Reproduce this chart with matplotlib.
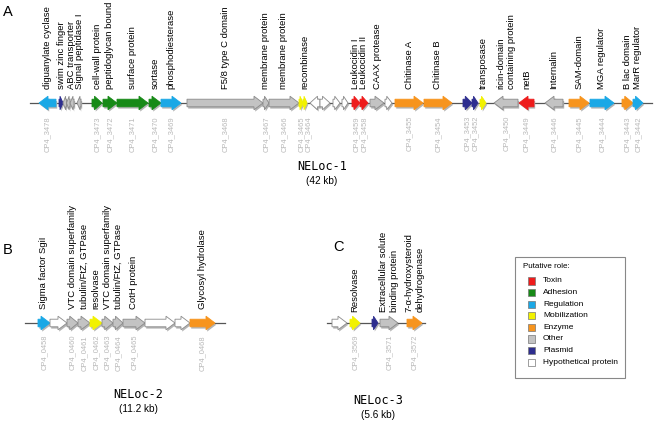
import matplotlib.pyplot as plt
from matplotlib.patches import Polygon, Rectangle

plt.rcParams['font.family'] = ['Liberation Sans', 'DejaVu Sans']

# colours for each putative role
role_colors = {
    'tox': '#ee1c1c',
    'adh': '#178a17',
    'reg': '#1aa8e6',
    'mob': '#f2f200',
    'enz': '#f7941d',
    'other': '#c3c3c3',
    'plasmid': '#2e2e8f',
    'hyp': '#ffffff',
}
legend_roles = ['tox', 'adh', 'reg', 'mob', 'enz', 'other', 'plasmid', 'hyp']
legend_names = ['Toxin', 'Adhesion', 'Regulation', 'Mobilization', 'Enzyme',
                'Other', 'Plasmid', 'Hypothetical protein']

# NELoc-1 (42 kb), positions in map units
loc1_start = [39, 59, 63, 66.5, 70, 77, 92, 103, 117, 149, 161, 187, 263, 269, 299, 303,
              310, 320, 333, 342, 352, 360, 370, 385, 395, 424, 463, 472, 480, 494, 519, 545,
              569, 590, 622, 633]
loc1_end = [56, 63, 66.5, 70, 74, 81, 102, 117, 148, 161, 181, 263, 269, 299, 303, 307,
            320, 330, 340, 348, 360, 368, 384, 392, 423, 452, 472, 478, 486, 518, 534, 563,
            589, 614, 633, 643]
loc1_strand = [-1, 1, -1, -1, -1, -1, 1, 1, 1, 1, 1, 1, 1, 1, 1, 1,
               -1, 1, 1, 1, 1, 1, 1, 1, 1, 1, 1, 1, 1, -1, -1, -1,
               1, 1, 1, 1]
loc1_role = ['reg', 'plasmid', 'other', 'other', 'other', 'other', 'adh', 'adh', 'adh', 'adh',
             'reg', 'other', 'other', 'other', 'mob', 'mob', 'hyp', 'hyp', 'hyp', 'hyp',
             'tox', 'tox', 'other', 'hyp', 'enz', 'enz', 'plasmid', 'plasmid', 'mob', 'other',
             'tox', 'other', 'enz', 'reg', 'enz', 'reg']
loc1_label = ['diguanylate cyclase', 'swim zinc finger', '', '', 'ABC transporter',
              'Signal peptidase I', 'cell-wall protein', 'peptidoglycan bound', 'surface protein',
              'sortase', 'phosphodiesterase', 'F5/8 type C domain', 'membrane protein',
              'membrane protein', '', 'recombinase', '', '', '', '', 'Leukocidin I',
              'Leukocidin II', 'CAAX protease', '', 'Chitinase A', 'Chitinase B', '', '',
              'transposase', 'ricin-domain\ncontaining protein', 'netB', 'Internalin',
              'SAM-domain', 'MGA regulator', 'B lac domain', 'MarR regulator']
loc1_tag = ['CP4_3478', '', '', '', '', '', 'CP4_3473', 'CP4_3472', 'CP4_3471', 'CP4_3470',
            'CP4_3469', 'CP4_3468', 'CP4_3467', 'CP4_3466', 'CP4_3465', 'CP4_3464', '', '', '',
            '', 'CP4_3459', 'CP4_3458', '', '', 'CP4_3455', 'CP4_3454', 'CP4_3453', 'CP4_3452',
            '', 'CP4_3450', 'CP4_3449', 'CP4_3446', 'CP4_3445', 'CP4_3444', 'CP4_3443',
            'CP4_3442']

# NELoc-2 (11.2 kb)
loc2_start = [38, 50, 67, 78, 90, 102, 113, 123, 145, 175, 190]
loc2_end = [50, 67, 78, 90, 102, 113, 123, 145, 175, 190, 215]
loc2_strand = [1] * 11
loc2_role = ['reg', 'hyp', 'other', 'other', 'mob', 'other', 'other', 'other', 'hyp', 'hyp', 'enz']
loc2_label = ['Sigma factor SgiI', '', 'VTC domain superfamily', 'tubulin/FtZ, GTPase',
              'resolvase', 'VTC domain superfamily', 'tubulin/FtZ, GTPase', 'CotH protein',
              '', '', 'Glycosyl hydrolase']
loc2_tag = ['CP4_0458', '', 'CP4_0460', 'CP4_0461', 'CP4_0462', 'CP4_0463', 'CP4_0464',
            'CP4_0465', '', '', 'CP4_0468']

# NELoc-3 (5.6 kb)
loc3_start = [332, 350, 372, 380, 407]
loc3_end = [347, 360, 378, 398, 422]
loc3_strand = [1, 1, 1, 1, 1]
loc3_role = ['hyp', 'mob', 'plasmid', 'other', 'enz']
loc3_label = ['', 'Resolvase', '', 'Extracellular solute\nbinding protein',
              '7-\u03b1-hydroxysteroid\ndehydrogenase']
loc3_tag = ['', 'CP4_3569', '', 'CP4_3571', 'CP4_3572']


fig = plt.figure(figsize=(6.55, 4.25), dpi=100)
ax = fig.add_axes([0, 0, 1, 1])
ax.set_xlim(0, 655)
ax.set_ylim(425, 0)
ax.axis('off')


def arrow_pts(s, e, strand, y, dx=0.0, dy=0.0):
    hl = min(9, 0.75 * (e - s))
    bh, hh = 3.8, 6.8
    if strand > 0:
        pts = [(s, y - bh), (e - hl, y - bh), (e - hl, y - hh), (e, y),
               (e - hl, y + hh), (e - hl, y + bh), (s, y + bh)]
    else:
        pts = [(e, y - bh), (s + hl, y - bh), (s + hl, y - hh), (s, y),
               (s + hl, y + hh), (s + hl, y + bh), (e, y + bh)]
    return [(px + dx, py + dy) for px, py in pts]


def spread(xs, gap):
    # push neighbouring texts apart so they do not collide
    out = list(xs)
    for i in range(1, len(out)):
        if out[i] - out[i - 1] < gap:
            out[i] = out[i - 1] + gap
    return out


def draw_locus(starts, ends, strands, roles, labels, tags, y, x0, x1, lab_y, tag_y):
    ax.plot([x0, x1], [y, y], color='#555555', lw=0.9, zorder=1)
    for s, e, st, r in zip(starts, ends, strands, roles):
        # soft shadow under each gene
        ax.add_patch(Polygon(arrow_pts(s, e, st, y, 1.2, 1.8), closed=True,
                             facecolor='#b4b4b4', edgecolor='none', zorder=2))
        edge = '#8a8a8a' if r in ('hyp', 'other') else role_colors[r]
        ax.add_patch(Polygon(arrow_pts(s, e, st, y), closed=True,
                             facecolor=role_colors[r], edgecolor=edge, lw=0.6, zorder=3))
    centers = [(s + e) / 2 for s, e in zip(starts, ends)]
    lab = [(c, t) for c, t in zip(centers, labels) if t]
    for x, t in zip(spread([c for c, _ in lab], 8), [t for _, t in lab]):
        ax.text(x, lab_y, t, rotation=90, ha='center', va='bottom',
                multialignment='left', fontsize=6.8, color='black', linespacing=1.2)
    tg = [(c, t) for c, t in zip(centers, tags) if t]
    for x, t in zip(spread([c for c, _ in tg], 7), [t for _, t in tg]):
        ax.text(x, tag_y, t, rotation=90, ha='center', va='top',
                fontsize=5.4, color='#b8b8b8')


draw_locus(loc1_start, loc1_end, loc1_strand, loc1_role, loc1_label, loc1_tag,
           103, 30, 652, 89, 116)
draw_locus(loc2_start, loc2_end, loc2_strand, loc2_role, loc2_label, loc2_tag,
           323, 25, 225, 309, 335)
draw_locus(loc3_start, loc3_end, loc3_strand, loc3_role, loc3_label, loc3_tag,
           323, 327, 425, 312, 335)

# panel letters
ax.text(8, 12, 'A', fontsize=10.5, ha='center', va='center')
ax.text(8, 250, 'B', fontsize=10.5, ha='center', va='center')
ax.text(339, 247, 'C', fontsize=10.5, ha='center', va='center')

# locus titles
for x, y, name, size in [(322, 166, 'NELoc-1', '(42 kb)'),
                         (138, 394, 'NELoc-2', '(11.2 kb)'),
                         (378, 400, 'NELoc-3', '(5.6 kb)')]:
    ax.text(x, y, name, fontsize=8.5, family='DejaVu Sans Mono', ha='center', va='center')
    ax.text(x, y + 15, size, fontsize=7.2, ha='center', va='center')

# legend box
ax.add_patch(Rectangle((515, 257), 110, 121, facecolor='white', edgecolor='#888888',
                       lw=0.8, zorder=4))
ax.text(523, 266, 'Putative role:', fontsize=5.8, va='center', zorder=5)
for i, (r, nm) in enumerate(zip(legend_roles, legend_names)):
    yy = 281 + i * 11.6
    ax.add_patch(Rectangle((528, yy - 3.6), 7.2, 7.2, facecolor=role_colors[r],
                           edgecolor='#777777', lw=0.5, zorder=5))
    ax.text(543, yy, nm, fontsize=6, va='center', zorder=5)

fig.savefig('out.png', dpi=100)
